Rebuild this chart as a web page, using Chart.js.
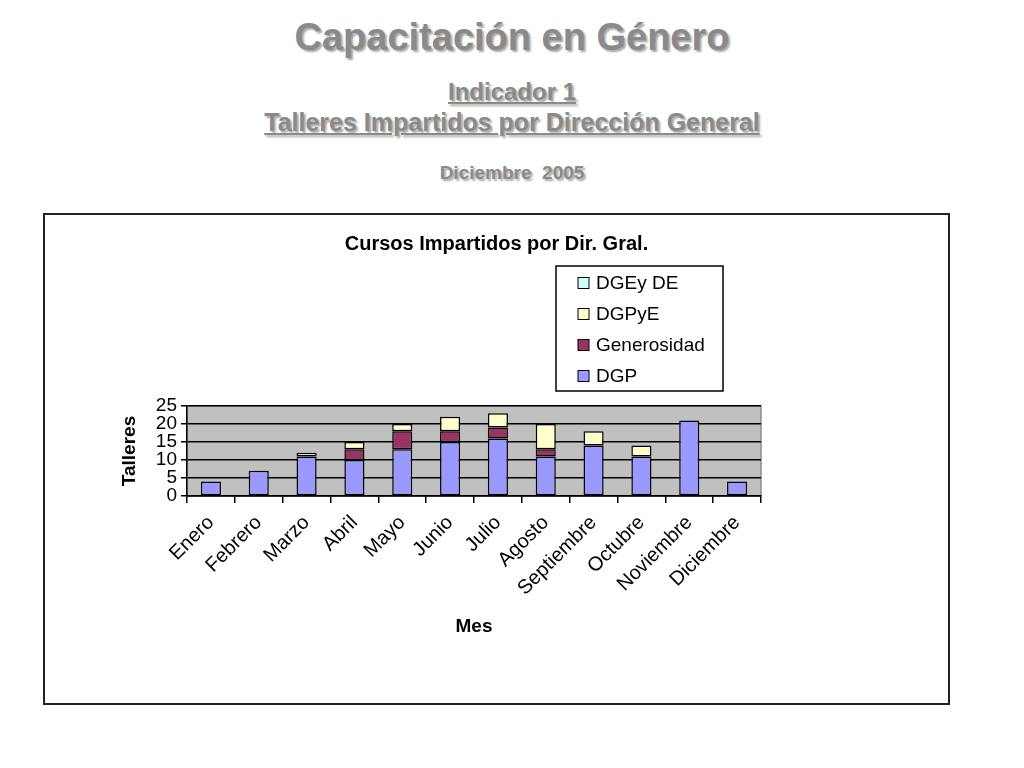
<!DOCTYPE html>
<html>
<head>
<meta charset="utf-8">
<script src="https://cdn.jsdelivr.net/npm/chart.js@4"></script>
<style>
  html, body { margin: 0; padding: 0; width: 1024px; height: 768px; background: #fff; overflow: hidden; font-family: "Liberation Sans", Arial, sans-serif; }
  .t { position: absolute; left: 0; width: 1024px; text-align: center; color: #8a8a8a; font-weight: bold; text-shadow: 2px 2px 2px rgba(0,0,0,0.35); line-height: 1; white-space: nowrap; }
  #t1 { top: 18px; font-size: 38px; }
  #t2 { top: 80px; font-size: 24px; text-decoration: underline; }
  #t3 { top: 110px; font-size: 25px; text-decoration: underline; }
  #t4 { top: 163px; font-size: 19px; }
  #box { position: absolute; left: 43px; top: 213px; width: 903px; height: 488px; border: 2px solid #222; background: #fff; }
  #wrap { position: absolute; left: 0; top: 0; width: 903px; height: 488px; }
</style>
</head>
<body>
<div class="t" id="t1">Capacitación en Género</div>
<div class="t" id="t2">Indicador 1</div>
<div class="t" id="t3">Talleres Impartidos por Dirección General</div>
<div class="t" id="t4">Diciembre&nbsp; 2005</div>
<div id="box"><div id="wrap"><canvas id="c"></canvas></div></div>
<script>
const months = ['Enero','Febrero','Marzo','Abril','Mayo','Junio','Julio','Agosto','Septiembre','Octubre','Noviembre','Diciembre'];
const dgp         = [4, 7, 11, 10, 13, 15, 16, 11, 14, 11, 21, 4];
const generosidad = [0, 0, 0, 3, 5, 3, 3, 2, 0, 0, 0, 0];
const dgpye       = [0, 0, 1, 2, 2, 4, 4, 7, 4, 3, 0, 0];
const dgeyde      = [0, 0, 0, 0, 0, 0, 0, 0, 0, 0, 0, 0];
const chartTitle = 'Cursos Impartidos por Dir. Gral.';

const FONT = "'Liberation Sans', Arial, sans-serif";

const plotBg = {
  id: 'plotBg',
  beforeDraw(chart) {
    const {ctx, chartArea: a} = chart;
    ctx.save();
    ctx.fillStyle = '#c0c0c0';
    ctx.fillRect(a.left, a.top, a.right - a.left, a.bottom - a.top);
    ctx.strokeStyle = '#8c8c8c';
    ctx.lineWidth = 1.5;
    ctx.strokeRect(a.left, a.top, a.right - a.left, a.bottom - a.top);
    ctx.restore();
  }
};

const boxLegend = {
  id: 'boxLegend',
  afterDraw(chart) {
    const ctx = chart.ctx;
    ctx.save();
    ctx.fillStyle = '#000';
    ctx.font = 'bold 20px ' + FONT;
    ctx.textAlign = 'center';
    ctx.textBaseline = 'middle';
    ctx.fillText(chartTitle, chart.width / 2, 29);
    ctx.strokeStyle = '#000';
    ctx.lineWidth = 1.5;
    ctx.strokeRect(511, 51, 167, 125);
    ctx.font = '19px ' + FONT;
    ctx.textAlign = 'left';
    const ds = chart.data.datasets.slice().reverse();
    ds.forEach((d, i) => {
      const cy = 68 + i * 31;
      ctx.fillStyle = d.backgroundColor;
      ctx.fillRect(533, cy - 5.5, 11, 11);
      ctx.lineWidth = 1;
      ctx.strokeStyle = '#000';
      ctx.strokeRect(533, cy - 5.5, 11, 11);
      ctx.fillStyle = '#000';
      ctx.fillText(d.label, 551, cy + 1);
    });
    ctx.restore();
  }
};

function ds(label, data, color) {
  return { label, data: data.map(v => (v === 0 ? null : v)), backgroundColor: color, borderColor: '#000', borderWidth: 1.5, borderSkipped: false,
           barPercentage: 0.42, categoryPercentage: 1.0 };
}

new Chart(document.getElementById('c'), {
  type: 'bar',
  data: {
    labels: months,
    datasets: [
      ds('DGP', dgp, '#9999ff'),
      ds('Generosidad', generosidad, '#993366'),
      ds('DGPyE', dgpye, '#ffffcc'),
      ds('DGEy DE', dgeyde, '#ccffff')
    ]
  },
  options: {
    responsive: true,
    maintainAspectRatio: false,
    animation: false,
    devicePixelRatio: 1,
    layout: { padding: { left: 0, right: 187, top: 191, bottom: 0 } },
    plugins: {
      legend: { display: false },
      tooltip: { enabled: false },
      title: { display: false }
    },
    scales: {
      x: {
        stacked: true,
        afterFit(s) { s.height = 207; },
        grid: { display: true, drawOnChartArea: false, drawTicks: true, tickLength: 7, color: '#000', lineWidth: 1.5, offset: true },
        border: { display: true, color: '#000', width: 1.5 },
        ticks: { color: '#000', font: { family: FONT, size: 20 }, minRotation: 45, maxRotation: 45, autoSkip: false, padding: 8 },
        title: { display: true, text: 'Mes', color: '#000', font: { family: FONT, size: 19, weight: 'bold' }, padding: { top: 0, bottom: 65 } }
      },
      y: {
        stacked: true,
        min: 0, max: 25,
        afterFit(s) { s.width = 142; },
        grid: { color: '#000', lineWidth: 1.5, drawTicks: true, tickLength: 6 },
        border: { display: true, color: '#000', width: 1.5 },
        ticks: { color: '#000', font: { family: FONT, size: 19, lineHeight: 1 }, padding: 4, stepSize: 5, autoSkip: false },
        title: { display: true, text: 'Talleres', color: '#000', font: { family: FONT, size: 19, weight: 'bold' }, padding: { top: 73, bottom: 0 } }
      }
    }
  },
  plugins: [plotBg, boxLegend]
});
</script>
</body>
</html>
